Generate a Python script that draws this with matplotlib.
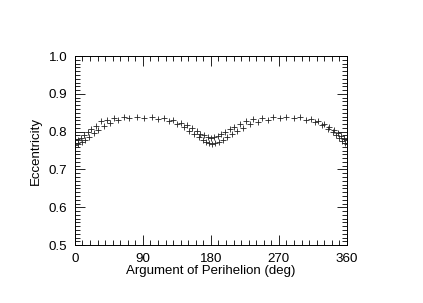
import matplotlib
matplotlib.use("Agg")
import matplotlib.pyplot as plt
from matplotlib.ticker import MultipleLocator

# upper branch (higher minimum near 0/180/360 deg)
omega_a = [0, 4, 8, 12, 17, 22, 28, 34, 42, 52, 65, 82, 102, 118, 130, 140,
           148, 155, 161, 166, 171, 176, 180, 184, 189, 194, 199, 205, 211,
           218, 226, 236, 248, 262, 280, 298, 312, 322, 330, 337, 343, 348,
           352, 356, 360]
ecc_a = [0.778, 0.779, 0.783, 0.790, 0.798, 0.806, 0.815, 0.827, 0.831, 0.836,
         0.838, 0.839, 0.838, 0.836, 0.831, 0.824, 0.817, 0.809, 0.801, 0.795,
         0.790, 0.786, 0.784, 0.785, 0.788, 0.793, 0.799, 0.806, 0.813, 0.820,
         0.827, 0.833, 0.836, 0.838, 0.839, 0.838, 0.834, 0.828, 0.821, 0.813,
         0.804, 0.796, 0.789, 0.783, 0.779]

# lower branch
omega_b = [0, 4, 9, 14, 19, 25, 31, 38, 46, 57, 72, 92, 110, 124, 135, 144,
           151, 158, 164, 169, 174, 178, 182, 186, 191, 196, 202, 208, 215,
           223, 232, 243, 256, 272, 290, 306, 318, 327, 335, 341, 346, 350,
           354, 357, 360]
ecc_b = [0.765, 0.767, 0.772, 0.779, 0.787, 0.796, 0.805, 0.814, 0.822, 0.830,
         0.835, 0.836, 0.834, 0.829, 0.821, 0.812, 0.803, 0.794, 0.786, 0.779,
         0.773, 0.769, 0.768, 0.770, 0.774, 0.779, 0.786, 0.794, 0.802, 0.811,
         0.819, 0.826, 0.832, 0.835, 0.835, 0.831, 0.825, 0.817, 0.808, 0.799,
         0.791, 0.783, 0.776, 0.771, 0.767]

plt.rcParams['font.family'] = ['Liberation Sans', 'DejaVu Sans']

fig = plt.figure(figsize=(4.23, 3.03), dpi=100)
ax = fig.add_axes([0.177, 0.191, 0.643, 0.624])

for om, ec in [(omega_a, ecc_a), (omega_b, ecc_b)]:
    ax.plot(om, ec, linestyle='none', marker='+', color='#222222',
            markersize=5, markeredgewidth=0.6)

ax.set_xlim(0, 360)
ax.set_ylim(0.5, 1.0)
ax.xaxis.set_major_locator(MultipleLocator(90))
ax.xaxis.set_minor_locator(MultipleLocator(10))
ax.yaxis.set_major_locator(MultipleLocator(0.1))
ax.yaxis.set_minor_locator(MultipleLocator(0.01))
ax.yaxis.set_major_formatter(lambda v, p: f"{v:.1f}")

ax.tick_params(which='both', direction='in', top=True, right=True,
               labelsize=9.6, width=0.6, colors='black')
ax.tick_params(which='major', length=7, pad=5.5)
ax.tick_params(which='minor', length=3.5)
for s in ax.spines.values():
    s.set_linewidth(0.7)

ax.set_xlabel('Argument of Perihelion (deg)', fontsize=9.5, labelpad=0.5)
ax.set_ylabel('Eccentricity', fontsize=9.5, labelpad=5)

fig.savefig('out.png', dpi=100)
